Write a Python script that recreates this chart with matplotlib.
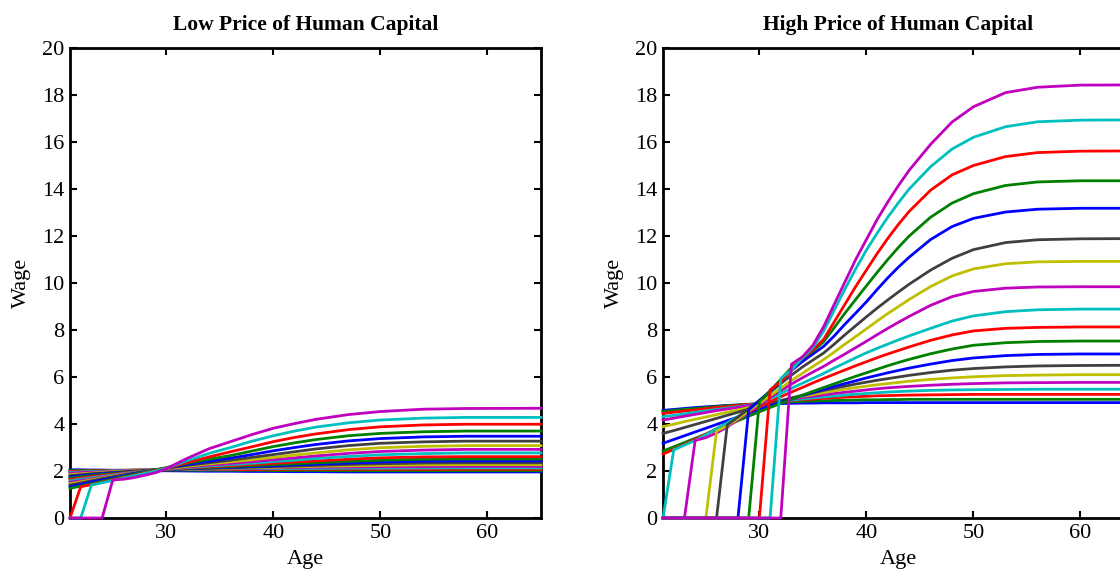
import matplotlib
matplotlib.use("Agg")
import matplotlib.pyplot as plt

plt.rcParams['font.family'] = ['Liberation Serif', 'DejaVu Serif']

# MATLAB default line colours (b, g, r, c, m, y, k)
colors = [(0, 0, 1), (0, 0.5, 0), (1, 0, 0), (0, 0.75, 0.75),
          (0.75, 0, 0.75), (0.75, 0.75, 0), (0.25, 0.25, 0.25)]

# ---- Low price of human capital ----
ages_low = [21, 22, 23, 24, 25, 26, 27, 28, 29, 30, 32, 34, 36, 38, 40, 42, 44, 47, 50, 54, 58, 65]

low_1 = [2.05, 2.05, 2.04, 2.04, 2.03, 2.03, 2.02, 2.02, 2.01, 2.01, 2.00, 1.99, 1.99, 1.98, 1.98, 1.97, 1.97, 1.96, 1.96, 1.96, 1.96, 1.96]
low_2 = [2.02, 2.02, 2.03, 2.03, 2.03, 2.03, 2.04, 2.04, 2.04, 2.04, 2.04, 2.03, 2.03, 2.03, 2.02, 2.02, 2.02, 2.01, 2.01, 2.01, 2.01, 2.01]
low_3 = [1.98, 1.99, 2.00, 2.01, 2.02, 2.03, 2.04, 2.04, 2.05, 2.05, 2.06, 2.06, 2.06, 2.06, 2.07, 2.07, 2.07, 2.07, 2.07, 2.07, 2.07, 2.07]
low_4 = [1.94, 1.96, 1.98, 1.99, 2.01, 2.02, 2.03, 2.04, 2.05, 2.06, 2.07, 2.08, 2.09, 2.10, 2.10, 2.11, 2.11, 2.12, 2.12, 2.13, 2.13, 2.13]
low_5 = [1.90, 1.93, 1.95, 1.97, 1.99, 2.01, 2.02, 2.04, 2.05, 2.06, 2.08, 2.09, 2.11, 2.12, 2.13, 2.15, 2.16, 2.17, 2.18, 2.19, 2.20, 2.20]
low_6 = [1.85, 1.88, 1.91, 1.94, 1.97, 1.99, 2.01, 2.03, 2.05, 2.06, 2.08, 2.10, 2.12, 2.14, 2.16, 2.18, 2.20, 2.22, 2.24, 2.26, 2.27, 2.27]
low_7 = [1.80, 1.84, 1.88, 1.91, 1.94, 1.97, 2.00, 2.02, 2.04, 2.06, 2.09, 2.11, 2.14, 2.16, 2.19, 2.21, 2.24, 2.28, 2.31, 2.34, 2.35, 2.35]
low_8 = [1.75, 1.80, 1.84, 1.88, 1.92, 1.95, 1.98, 2.01, 2.04, 2.06, 2.10, 2.13, 2.16, 2.19, 2.22, 2.26, 2.29, 2.34, 2.38, 2.42, 2.43, 2.43]
low_9 = [1.70, 1.75, 1.80, 1.85, 1.89, 1.93, 1.97, 2.01, 2.04, 2.07, 2.11, 2.15, 2.19, 2.23, 2.27, 2.31, 2.35, 2.41, 2.46, 2.50, 2.51, 2.51]
low_10 = [1.64, 1.70, 1.76, 1.81, 1.86, 1.91, 1.96, 2.00, 2.04, 2.08, 2.13, 2.18, 2.23, 2.28, 2.33, 2.38, 2.43, 2.50, 2.56, 2.60, 2.61, 2.61]
low_11 = [1.58, 1.65, 1.71, 1.77, 1.83, 1.89, 1.94, 1.99, 2.04, 2.08, 2.15, 2.21, 2.27, 2.33, 2.40, 2.46, 2.53, 2.62, 2.69, 2.74, 2.77, 2.77]
low_12 = [1.52, 1.59, 1.66, 1.73, 1.80, 1.87, 1.93, 1.99, 2.04, 2.09, 2.17, 2.25, 2.32, 2.40, 2.48, 2.56, 2.64, 2.75, 2.83, 2.89, 2.92, 2.92]
low_13 = [1.46, 1.54, 1.62, 1.70, 1.78, 1.85, 1.92, 1.98, 2.04, 2.10, 2.20, 2.30, 2.39, 2.48, 2.58, 2.68, 2.77, 2.90, 2.99, 3.05, 3.08, 3.08]
low_14 = [1.40, 1.49, 1.58, 1.67, 1.75, 1.83, 1.91, 1.98, 2.05, 2.12, 2.24, 2.35, 2.46, 2.58, 2.70, 2.82, 2.94, 3.08, 3.18, 3.24, 3.27, 3.27]
low_15 = [1.33, 1.43, 1.53, 1.62, 1.71, 1.80, 1.89, 1.97, 2.05, 2.13, 2.28, 2.42, 2.55, 2.70, 2.86, 3.00, 3.13, 3.28, 3.38, 3.45, 3.48, 3.48]
low_16 = [1.26, 1.36, 1.46, 1.56, 1.66, 1.76, 1.86, 1.96, 2.05, 2.14, 2.33, 2.50, 2.66, 2.85, 3.04, 3.20, 3.34, 3.50, 3.60, 3.67, 3.70, 3.70]
low_17 = [0, 1.33, 1.42, 1.52, 1.62, 1.72, 1.82, 1.92, 2.02, 2.12, 2.37, 2.60, 2.82, 3.03, 3.25, 3.43, 3.58, 3.76, 3.88, 3.96, 3.99, 3.99]
low_18 = [0, 0, 1.40, 1.50, 1.60, 1.70, 1.80, 1.90, 2.00, 2.12, 2.45, 2.75, 3.00, 3.27, 3.50, 3.70, 3.87, 4.05, 4.17, 4.25, 4.28, 4.28]
low_19 = [0, 0, 0, 0, 1.62, 1.65, 1.72, 1.82, 1.93, 2.10, 2.55, 2.95, 3.25, 3.55, 3.82, 4.02, 4.20, 4.40, 4.53, 4.63, 4.66, 4.67]

wages_low = [low_1, low_2, low_3, low_4, low_5, low_6, low_7, low_8, low_9, low_10,
             low_11, low_12, low_13, low_14, low_15, low_16, low_17, low_18, low_19]

# ---- High price of human capital ----
ages_high = [21, 22, 23, 24, 25, 26, 27, 28, 29, 30, 31, 32, 33, 34, 35, 36, 37, 38, 39, 40, 41, 42, 43, 44,
             46, 48, 50, 53, 56, 60, 65]

high_1 = [4.58, 4.62, 4.66, 4.70, 4.73, 4.76, 4.79, 4.81, 4.83, 4.85, 4.86, 4.87, 4.88, 4.89,
          4.89, 4.90, 4.90, 4.90, 4.90, 4.91, 4.91, 4.91, 4.91, 4.91, 4.91, 4.91, 4.91, 4.91, 4.91, 4.91, 4.91]
high_2 = [4.53, 4.58, 4.62, 4.66, 4.70, 4.74, 4.78, 4.81, 4.84, 4.87, 4.90, 4.92, 4.94, 4.96,
          4.98, 4.99, 5.00, 5.01, 5.02, 5.03, 5.03, 5.04, 5.04, 5.05, 5.05, 5.05, 5.05, 5.05, 5.05, 5.05, 5.05]
high_3 = [4.45, 4.50, 4.55, 4.60, 4.65, 4.70, 4.74, 4.79, 4.83, 4.87, 4.91, 4.95, 4.99, 5.03,
          5.06, 5.09, 5.12, 5.14, 5.16, 5.18, 5.20, 5.21, 5.22, 5.23, 5.24, 5.25, 5.26, 5.26, 5.26, 5.26, 5.26]
high_4 = [4.31, 4.37, 4.43, 4.50, 4.56, 4.62, 4.68, 4.74, 4.80, 4.86, 4.91, 4.96, 5.01, 5.06,
          5.11, 5.15, 5.19, 5.23, 5.27, 5.30, 5.33, 5.36, 5.38, 5.40, 5.43, 5.45, 5.46, 5.47, 5.48, 5.48, 5.48]
high_5 = [4.17, 4.25, 4.33, 4.41, 4.49, 4.57, 4.64, 4.71, 4.78, 4.85, 4.92, 4.99, 5.06, 5.12,
          5.18, 5.24, 5.30, 5.35, 5.40, 5.45, 5.50, 5.54, 5.57, 5.60, 5.65, 5.69, 5.72, 5.75, 5.76, 5.77, 5.77]
high_6 = [3.89, 3.99, 4.10, 4.20, 4.30, 4.40, 4.50, 4.60, 4.70, 4.80, 4.90, 4.99, 5.08, 5.17,
          5.25, 5.33, 5.41, 5.48, 5.55, 5.61, 5.67, 5.72, 5.77, 5.82, 5.90, 5.96, 6.01, 6.06, 6.08, 6.10, 6.10]
high_7 = [3.60, 3.72, 3.85, 3.98, 4.11, 4.24, 4.37, 4.50, 4.63, 4.76, 4.88, 5.00, 5.11, 5.22,
          5.33, 5.43, 5.52, 5.61, 5.70, 5.78, 5.86, 5.93, 6.00, 6.07, 6.19, 6.29, 6.36, 6.43, 6.47, 6.49, 6.50]
high_8 = [3.18, 3.34, 3.50, 3.66, 3.82, 3.98, 4.14, 4.30, 4.46, 4.62, 4.77, 4.92, 5.06, 5.20,
          5.34, 5.47, 5.60, 5.72, 5.84, 5.96, 6.07, 6.18, 6.28, 6.38, 6.55, 6.70, 6.81, 6.91, 6.96, 6.98, 6.98]
high_9 = [2.85, 3.03, 3.21, 3.39, 3.57, 3.76, 3.95, 4.14, 4.33, 4.52, 4.70, 4.88, 5.05, 5.22,
          5.39, 5.55, 5.71, 5.87, 6.03, 6.18, 6.33, 6.48, 6.62, 6.75, 6.99, 7.19, 7.35, 7.46, 7.51, 7.53, 7.53]
high_10 = [2.72, 2.92, 3.13, 3.35, 3.57, 3.80, 4.03, 4.27, 4.50, 4.73, 4.95, 5.16, 5.36, 5.55,
           5.75, 5.94, 6.12, 6.30, 6.48, 6.65, 6.82, 6.98, 7.13, 7.28, 7.56, 7.79, 7.96, 8.07, 8.11, 8.13, 8.13]
high_11 = [0, 2.90, 3.10, 3.30, 3.55, 3.80, 4.05, 4.32, 4.58, 4.84, 5.07, 5.30, 5.52, 5.73,
           5.94, 6.15, 6.38, 6.60, 6.82, 7.03, 7.22, 7.40, 7.58, 7.75, 8.07, 8.38, 8.60, 8.78, 8.86, 8.89, 8.89]
high_12 = [0, 0, 0, 3.30, 3.42, 3.62, 3.87, 4.18, 4.50, 4.82, 5.13, 5.42, 5.70, 5.96,
           6.21, 6.45, 6.72, 6.98, 7.25, 7.52, 7.80, 8.07, 8.33, 8.58, 9.05, 9.42, 9.64, 9.78, 9.83, 9.84, 9.84]
high_13 = [0, 0, 0, 0, 0, 3.70, 3.92, 4.22, 4.55, 4.88, 5.20, 5.52, 5.85, 6.15,
           6.45, 6.74, 7.06, 7.40, 7.72, 8.05, 8.38, 8.70, 9.00, 9.30, 9.85, 10.30, 10.60, 10.82, 10.90, 10.92, 10.92]
high_14 = [0, 0, 0, 0, 0, 0, 3.96, 4.30, 4.65, 5.00, 5.35, 5.72, 6.08, 6.42,
           6.72, 7.02, 7.40, 7.80, 8.18, 8.56, 8.93, 9.28, 9.62, 9.95, 10.55, 11.05, 11.42, 11.72, 11.84, 11.88, 11.89]
high_15 = [0, 0, 0, 0, 0, 0, 0, 0, 4.60, 5.00, 5.40, 5.85, 6.28, 6.65,
           6.98, 7.30, 7.75, 8.25, 8.72, 9.20, 9.72, 10.22, 10.68, 11.10, 11.85, 12.40, 12.75, 13.02, 13.14, 13.18, 13.18]
high_16 = [0, 0, 0, 0, 0, 0, 0, 0, 0, 4.95, 5.40, 5.90, 6.40, 6.80,
           7.10, 7.50, 8.10, 8.72, 9.30, 9.88, 10.45, 11.00, 11.52, 12.00, 12.80, 13.40, 13.80, 14.15, 14.30, 14.35, 14.35]
high_17 = [0, 0, 0, 0, 0, 0, 0, 0, 0, 0, 5.45, 5.80, 6.30, 6.80,
           7.15, 7.60, 8.35, 9.10, 9.85, 10.55, 11.25, 11.90, 12.50, 13.05, 13.95, 14.60, 15.00, 15.38, 15.55, 15.61, 15.62]
high_18 = [0, 0, 0, 0, 0, 0, 0, 0, 0, 0, 0, 5.94, 6.30, 6.80,
           7.25, 7.95, 8.85, 9.75, 10.60, 11.40, 12.12, 12.80, 13.42, 14.00, 14.95, 15.70, 16.20, 16.65, 16.86, 16.93, 16.94]
high_19 = [0, 0, 0, 0, 0, 0, 0, 0, 0, 0, 0, 0, 6.55, 6.85,
           7.35, 8.14, 9.10, 10.05, 11.00, 11.85, 12.70, 13.45, 14.15, 14.80, 15.90, 16.85, 17.50, 18.10, 18.33, 18.42, 18.43]

wages_high = [high_1, high_2, high_3, high_4, high_5, high_6, high_7, high_8, high_9, high_10,
              high_11, high_12, high_13, high_14, high_15, high_16, high_17, high_18, high_19]

panels = [
    ("Low Price of Human Capital", ages_low, wages_low, [0.0625, 0.0944, 0.4205, 0.8217]),
    ("High Price of Human Capital", ages_high, wages_high, [0.592, 0.0944, 0.4205, 0.8217]),
]

fig = plt.figure(figsize=(11.2, 5.72), dpi=100)

for title, ages, wages, rect in panels:
    ax = fig.add_axes(rect)
    for i, w in enumerate(wages):
        ax.plot(ages, w, color=colors[i % 7], lw=2.0, clip_on=False, zorder=3)
    ax.set_xlim(21, 65)
    ax.set_ylim(0, 20)
    ax.set_xticks([30, 40, 50, 60])
    ax.set_yticks(range(0, 21, 2))
    ax.tick_params(direction='in', top=True, right=True, length=5, width=1.5,
                   labelsize=16, pad=4)
    for s in ax.spines.values():
        s.set_linewidth(2.0)
    ax.set_title(title, fontsize=15.5, fontweight='bold', pad=13)
    ax.set_xlabel("Age", fontsize=16, labelpad=5)
    ax.set_ylabel("Wage", fontsize=16, labelpad=8)

fig.savefig("out.png", dpi=100)
